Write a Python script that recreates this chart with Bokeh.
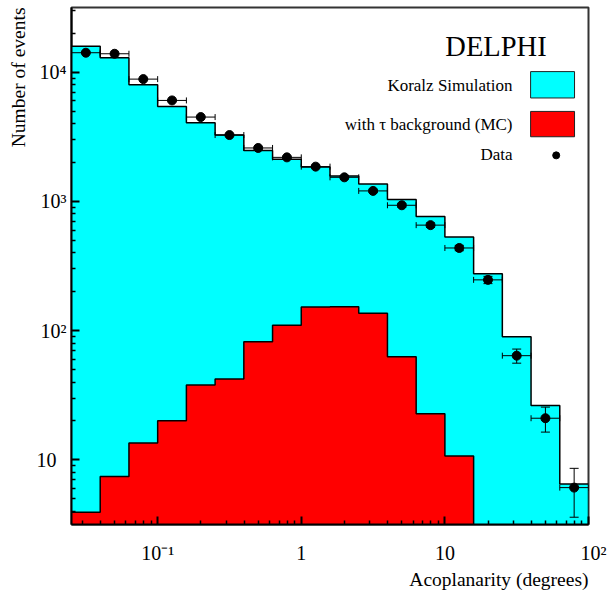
import numpy as np
from bokeh.plotting import figure
from bokeh.models import Range1d, FixedTicker, Title
from bokeh.embed import file_html
from bokeh.resources import INLINE
from bokeh.core.properties import value

# ---- data ----
bin_edges = [0.02512, 0.03981, 0.06310, 0.1, 0.1585, 0.2512, 0.3981, 0.6310, 1.0,
             1.585, 2.512, 3.981, 6.310, 10.0, 15.85, 25.12, 39.81, 63.10, 100.0]
koralz = [15880, 12920, 8000, 5430, 4055, 3260, 2470, 2115, 1845, 1572, 1364,
          1035, 764, 531, 275, 89.8, 26.3, 6.5]
tau_bg = [3.94, 7.43, 13.5, 20.1, 37.9, 42.2, 82, 110, 152, 153, 136, 62.8, 22.7, 10.7]
data = [14130, 13870, 8830, 6040, 4490, 3260, 2590, 2190, 1857, 1535, 1205,
        933, 655, 436, 247, 64, 21.0, 6.1]
data_err = [119, 118, 94, 78, 67, 57, 51, 47, 43, 39, 35, 31, 26, 21, 16, 8, 4.6, 2.5]

x_ticks = [0.1, 1, 10, 100]
x_tick_labels = ["10\u207b\u00b9", "1", "10", "\u200210\u00b2"]
x_minor = [0.03, 0.04, 0.05, 0.06, 0.07, 0.08, 0.09,
           0.2, 0.3, 0.4, 0.5, 0.6, 0.7, 0.8, 0.9,
           2, 3, 4, 5, 6, 7, 8, 9, 20, 30, 40, 50, 60, 70, 80, 90]
y_ticks = [10, 100, 1000, 10000]
y_tick_labels = ["10\u2002", "10\u00b2", "10\u00b3", "10\u2074"]
y_minor = [4, 5, 6, 7, 8, 9, 20, 30, 40, 50, 60, 70, 80, 90,
           200, 300, 400, 500, 600, 700, 800, 900,
           2000, 3000, 4000, 5000, 6000, 7000, 8000, 9000, 20000, 30000]

legend_labels = ["Koralz Simulation", "with \u03c4 background (MC)", "Data"]

FONT = "Liberation Serif"
CYAN = "#00FFFF"
RED = "#FF0000"

x0, x1 = 0.02512, 100.0
y0, y1 = 3.1623, 31623.0

p = figure(width=608, height=591, x_axis_type="log", y_axis_type="log",
           x_range=Range1d(x0, x1), y_range=Range1d(y0, y1),
           output_backend="svg", toolbar_location=None,
           min_border_left=71, min_border_right=20, min_border_top=7,
           min_border_bottom=67)
p.xgrid.visible = False
p.ygrid.visible = False
p.outline_line_color = "#333333"
p.outline_line_width = 2
p.background_fill_color = "white"
p.border_fill_color = "white"

p.xaxis[0].ticker = FixedTicker(ticks=x_ticks, minor_ticks=x_minor)
p.yaxis[0].ticker = FixedTicker(ticks=y_ticks, minor_ticks=y_minor)
p.xaxis[0].major_label_overrides = {t: s for t, s in zip(x_ticks, x_tick_labels)}
p.yaxis[0].major_label_overrides = {t: s for t, s in zip(y_ticks, y_tick_labels)}
p.xaxis[0].major_label_standoff = 17
p.yaxis[0].major_label_standoff = 5

for ax in (p.xaxis[0], p.yaxis[0]):
    ax.axis_line_color = "black"
    ax.axis_line_width = 2
    ax.major_tick_in = 8
    ax.major_tick_out = 0
    ax.minor_tick_in = 4
    ax.minor_tick_out = 0
    ax.major_tick_line_width = 2
    ax.minor_tick_line_width = 1.5
    ax.major_tick_line_color = "black"
    ax.minor_tick_line_color = "black"
    ax.major_label_text_font = FONT
    ax.major_label_text_font_size = "20px"
    ax.major_label_text_color = "black"

edges = np.array(bin_edges)
lo = edges[:-1]
hi = edges[1:]
centers = np.sqrt(lo * hi)
bottom = 1.0

def step_path(e, v):
    xs = np.repeat(e, 2)[1:-1]
    ys = np.repeat(v, 2)
    xs = np.concatenate([xs, [e[-1]]])
    ys = np.concatenate([ys, [bottom]])
    return xs, ys

sx, sy = step_path(edges, np.array(koralz, dtype=float))
nb = len(tau_bg)
rx, ry = step_path(edges[:nb + 1], np.array(tau_bg, dtype=float))

# histograms (fill)
p.patch(np.concatenate([[edges[0]], sx]), np.concatenate([[bottom], sy]),
        fill_color=CYAN, line_color=None)
p.patch(np.concatenate([[edges[0]], rx]), np.concatenate([[bottom], ry]),
        fill_color=RED, line_color=None)
# step outlines
p.line(sx, sy, line_color="black", line_width=1.5)
p.line(rx, ry, line_color="black", line_width=1.5)

# data points with error bars
d = np.array(data, dtype=float)
de = np.array(data_err, dtype=float)
p.segment(x0=lo, y0=d, x1=hi, y1=d, line_color="black", line_width=1)
p.scatter(x=np.concatenate([lo, hi]), y=np.concatenate([d, d]), marker="dash",
          angle=np.pi / 2, size=6, line_color="black", line_width=1)
p.segment(x0=centers, y0=d - de, x1=centers, y1=d + de, line_color="black", line_width=1)
p.scatter(x=np.concatenate([centers, centers]), y=np.concatenate([d - de, d + de]),
          marker="dash", size=9, line_color="black", line_width=1)
p.scatter(x=centers, y=d, size=9, color="black")

# ---- legend (positions as fractions of the frame) ----
def fx(f):
    return 10 ** (np.log10(x0) + f * (np.log10(x1) - np.log10(x0)))

def fy(f):
    return 10 ** (np.log10(y0) + f * (np.log10(y1) - np.log10(y0)))

p.text(x=[fx(0.821)], y=[fy(0.924)], text=["DELPHI"], text_align="center",
       text_baseline="middle", text_font=value(FONT), text_font_size="28.5px",
       text_color="black")
leg_y = [fy(0.849), fy(0.774), fy(0.715)]
p.text(x=[fx(0.853)] * 3, y=leg_y, text=legend_labels, text_align="right",
       text_baseline="middle", text_font=value(FONT), text_font_size="17px",
       text_color="black")
p.quad(left=[fx(0.888)], right=[fx(0.973)], top=[fy(0.876)], bottom=[fy(0.825)],
       fill_color=CYAN, line_color="#222222", line_width=1)
p.quad(left=[fx(0.888)], right=[fx(0.973)], top=[fy(0.799)], bottom=[fy(0.750)],
       fill_color=RED, line_color="#222222", line_width=1)
p.scatter(x=[fx(0.9375)], y=[fy(0.714)], size=7, color="black")

# ---- axis titles (right/top aligned, ROOT style) ----
p.add_layout(Title(text="Acoplanarity (degrees)", align="right", standoff=0,
                   text_font=FONT, text_font_size="19.5px", text_font_style="normal",
                   text_color="black"), "below")
p.add_layout(Title(text="Number of events", align="right", standoff=10,
                   text_font=FONT, text_font_size="19.5px", text_font_style="normal",
                   text_color="black"), "left")

open("out.html", "w").write(file_html(p, INLINE))
